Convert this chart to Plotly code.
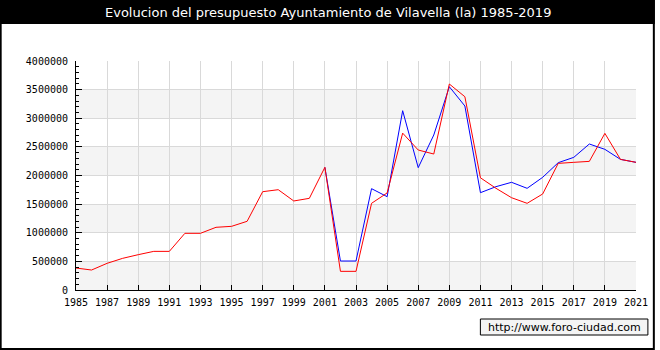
import plotly.graph_objects as go

years = list(range(1985, 2022))
red_values = [384000, 349000, 466000, 553000, 617000, 675000, 675000, 990000, 990000,
              1095000, 1112000, 1200000, 1717000, 1752000, 1555000, 1601000, 2143000,
              326000, 326000, 1514000, 1695000, 2740000, 2445000, 2375000, 3598000,
              3376000, 1960000, 1776000, 1612000, 1514000, 1677000, 2212000, 2230000,
              2247000, 2736000, 2282000, 2230000]
blue_years = list(range(2001, 2022))
blue_values = [2143000, 506000, 506000, 1770000, 1630000, 3132000, 2137000, 2707000,
               3551000, 3214000, 1700000, 1805000, 1881000, 1776000, 1968000, 2224000,
               2317000, 2550000, 2457000, 2282000, 2230000]
x_ticks = list(range(1985, 2022, 2))
band_ranges = [(0, 500000), (1000000, 1500000), (2000000, 2500000), (3000000, 3500000)]
title_text = "Evolucion del presupuesto Ayuntamiento de Vilavella (la) 1985-2019"
watermark = "http://www.foro-ciudad.com"

W, H = 660, 350
L, R, T, B = 76, 19, 61, 60
PW, PH = W - L - R, H - T - B

def px(x):
    return (x - L) / PW

def py(y):
    return (H - B - y) / PH

fig = go.Figure()
fig.add_trace(go.Scatter(x=blue_years, y=blue_values, mode="lines",
                         line=dict(color="#0000ff", width=1), hoverinfo="skip"))
fig.add_trace(go.Scatter(x=years, y=red_values, mode="lines",
                         line=dict(color="#ff0000", width=1), hoverinfo="skip"))

shapes = []
for y0, y1 in band_ranges:
    shapes.append(dict(type="rect", xref="paper", yref="y", x0=0, x1=1, y0=y0, y1=y1,
                       fillcolor="#f4f4f4", line=dict(width=0), layer="below"))
# title bar
shapes.append(dict(type="rect", xref="paper", yref="paper", x0=px(0), x1=px(W),
                   y0=py(24), y1=py(0), fillcolor="black", line=dict(width=0), layer="above"))
# outer border
shapes.append(dict(type="rect", xref="paper", yref="paper", x0=px(0), x1=px(659),
                   y0=py(349), y1=py(0), fillcolor="rgba(0,0,0,0)",
                   line=dict(color="black", width=2), layer="above"))
# watermark box
shapes.append(dict(type="rect", xref="paper", yref="paper", x0=px(484), x1=px(653),
                   y0=py(335), y1=py(319), fillcolor="#f4f4f4",
                   line=dict(color="black", width=1), layer="above"))

annotations = [
    dict(text=title_text, xref="paper", yref="paper", x=px(330), y=py(12),
         showarrow=False, xanchor="center", yanchor="middle",
         font=dict(family="DejaVu Sans", size=13, color="white")),
    dict(text=watermark, xref="paper", yref="paper", x=px(568.5), y=py(327),
         showarrow=False, xanchor="center", yanchor="middle",
         font=dict(family="DejaVu Sans", size=11, color="black")),
]

fig.update_layout(
    width=W, height=H, margin=dict(l=L, r=R, t=T, b=B, pad=0),
    paper_bgcolor="white", plot_bgcolor="white", showlegend=False,
    shapes=shapes, annotations=annotations,
    font=dict(family="DejaVu Sans Mono", size=10, color="black"),
    xaxis=dict(range=[1985, 2021], tickvals=x_ticks, ticktext=[str(v) for v in x_ticks],
               showgrid=True, gridcolor="#d9d9d9", gridwidth=1,
               showline=True, linecolor="black", linewidth=1,
               ticks="inside", ticklen=5, tickcolor="black",
               zeroline=False, fixedrange=True, ticklabelstandoff=3),
    yaxis=dict(range=[0, 4000000], dtick=500000, tick0=0, tickformat="d",
               showgrid=True, gridcolor="#d9d9d9", gridwidth=1,
               showline=True, linecolor="black", linewidth=1,
               ticks="inside", ticklen=6, tickcolor="black",
               minor=dict(dtick=100000, ticks="inside", ticklen=3, tickcolor="black", showgrid=False),
               zeroline=False, fixedrange=True, ticklabelstandoff=5),
)

fig.write_html("out.html", config={"displayModeBar": False})
